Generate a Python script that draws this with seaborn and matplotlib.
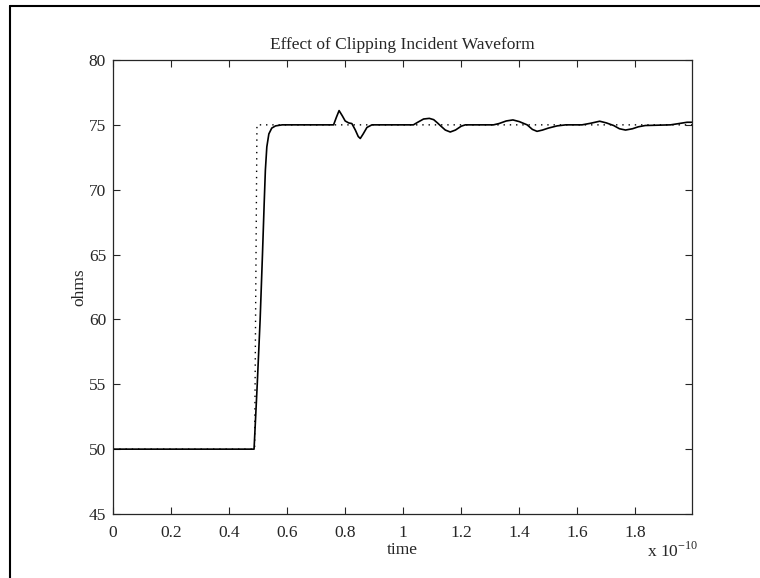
import matplotlib
matplotlib.use("Agg")
import matplotlib.pyplot as plt
from matplotlib.lines import Line2D
import pandas as pd
import seaborn as sns

# time in units of 1e-10 s, impedance in ohms
clipped_t = [0, 0.486, 0.497, 0.507, 0.515, 0.521, 0.525, 0.530, 0.537, 0.547,
             0.560, 0.583, 0.760, 0.770, 0.779, 0.790, 0.800, 0.812, 0.823,
             0.835, 0.845, 0.852, 0.862, 0.875, 0.892, 1.035, 1.05, 1.07, 1.09,
             1.105, 1.118, 1.13, 1.145, 1.162, 1.18, 1.20, 1.214, 1.311, 1.33,
             1.355, 1.378, 1.40, 1.427, 1.445, 1.461, 1.48, 1.50, 1.53, 1.56,
             1.616, 1.645, 1.677, 1.70, 1.725, 1.745, 1.766, 1.79, 1.81, 1.834,
             1.921, 1.95, 1.978, 1.995]
clipped_ohms = [50, 50, 55, 60, 65, 69, 71.5, 73.3, 74.3, 74.75,
                74.92, 75, 75, 75.6, 76.1, 75.7, 75.3, 75.15, 75.1,
                74.6, 74.1, 73.95, 74.3, 74.8, 75.0, 75.0, 75.2, 75.45, 75.5,
                75.4, 75.15, 74.9, 74.6, 74.45, 74.6, 74.9, 75.0, 75.0, 75.1,
                75.3, 75.38, 75.25, 75.0, 74.65, 74.5, 74.6, 74.75, 74.92, 75.0,
                75.0, 75.12, 75.28, 75.15, 74.95, 74.7, 74.6, 74.7, 74.85, 74.95,
                75.0, 75.1, 75.2, 75.2]

ideal_t = [0, 0.488, 0.496, 1.995]
ideal_ohms = [50, 50, 75, 75]

xticks = [0, 0.2, 0.4, 0.6, 0.8, 1.0, 1.2, 1.4, 1.6, 1.8]
xtick_labels = ["0", "0.2", "0.4", "0.6", "0.8", "1", "1.2", "1.4", "1.6", "1.8"]
yticks = [45, 50, 55, 60, 65, 70, 75, 80]

sns.set_style("ticks")
plt.rcParams["font.family"] = ["Liberation Serif", "DejaVu Serif"]
plt.rcParams["mathtext.fontset"] = "custom"
plt.rcParams["mathtext.rm"] = "Liberation Serif"

clipped = pd.DataFrame({"time": clipped_t, "ohms": clipped_ohms})
ideal = pd.DataFrame({"time": ideal_t, "ohms": ideal_ohms})

fig = plt.figure(figsize=(7.6, 5.78), dpi=100)
ax = fig.add_axes([113 / 760, 1 - 514 / 578, 579 / 760, 454 / 578])

sns.lineplot(data=ideal, x="time", y="ohms", ax=ax, color="black",
             linewidth=1.0, linestyle=(0, (1, 3.5)), sort=False)
sns.lineplot(data=clipped, x="time", y="ohms", ax=ax, color="black",
             linewidth=1.2, sort=False)

ax.set_xlim(0, 1.995)
ax.set_ylim(45, 80)
ax.set_xticks(xticks)
ax.set_xticklabels(xtick_labels)
ax.set_yticks(yticks)
ax.tick_params(direction="in", top=True, right=True, length=5, width=0.8,
               labelsize=12.5)
ax.tick_params(axis="x", pad=8)
ax.tick_params(axis="y", pad=5)
for s in ax.spines.values():
    s.set_linewidth(0.9)

ax.set_title("Effect of Clipping Incident Waveform", fontsize=12.5, pad=8)
ax.set_xlabel("time", fontsize=12.5, labelpad=1)
ax.set_ylabel("ohms", fontsize=12.5, labelpad=1)
fig.text(673 / 760, 1 - 551 / 578, r"x 10$^{-10}$", fontsize=12.5,
         ha="center", va="center")

# frame of the scanned page
fig.add_artist(Line2D([10 / 760, 10 / 760], [0, 1 - 6 / 578],
                      color="black", linewidth=1.5))
fig.add_artist(Line2D([10 / 760, 1], [1 - 6 / 578, 1 - 6 / 578],
                      color="black", linewidth=1.5))

fig.savefig("out.png", dpi=100)
